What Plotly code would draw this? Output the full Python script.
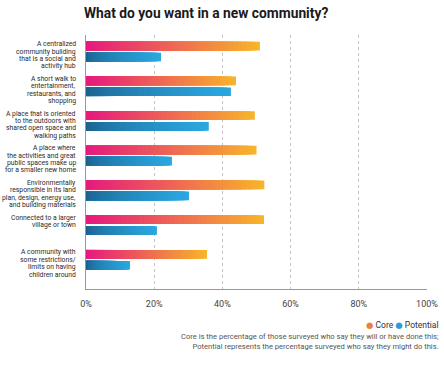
import plotly.graph_objects as go

categories = [
    "A centralized<br>community building<br>that is a social and<br>activity hub",
    "A short walk to<br>entertainment,<br>restaurants, and<br>shopping",
    "A place that is oriented<br>to the outdoors with<br>shared open space and<br>walking paths",
    "A place where<br>the activities and great<br>public spaces make up<br>for a smaller new home",
    "Environmentally<br>responsible in its land<br>plan, design, energy use,<br>and building materials",
    "Connected to a larger<br>village or town",
    "A community with<br>some restrictions/<br>limits on having<br>children around",
]
core = [51, 44, 49.5, 50, 52.3, 52.2, 35.5]
potential = [22, 42.5, 36, 25.2, 30.2, 20.8, 12.9]
tick_vals = [0, 20, 40, 60, 80, 100]
tick_text = ["0%", "20%", "40%", "60%", "80%", "100%"]

title_text = "What do you want in a new community?"
caption = ("Core is the percentage of those surveyed who say they will or have done this;<br>"
           "Potential represents the percentage surveyed who say they might do this.")

CORE_FROM, CORE_TO = (230, 24, 126), (247, 182, 42)
POT_FROM, POT_TO = (27, 92, 136), (42, 168, 225)
N = 40
idx = list(range(len(categories)))


def mix(a, b, t):
    return "rgb(%d,%d,%d)" % tuple(round(a[i] + (b[i] - a[i]) * t) for i in range(3))


fig = go.Figure()
W = 0.25
for vals, c0, c1, center, tpow in [(core, CORE_FROM, CORE_TO, -0.16, 1.0),
                                   (potential, POT_FROM, POT_TO, 0.155, 0.6)]:
    for j in range(N, 0, -1):
        t = ((j - 0.5) / N) ** tpow
        fig.add_trace(go.Bar(
            y=idx, x=[v * j / N for v in vals], orientation="h",
            marker=dict(color=mix(c0, c1, t), line=dict(width=0)),
            width=W, offset=center - W / 2, showlegend=False, hoverinfo="skip"))

annotations = []
for i, lab in enumerate(categories):
    for k, line in enumerate(lab.split("<br>")):
        annotations.append(dict(
            xref="paper", yref="y", x=0, y=i, xshift=-8, yshift=7.5 - 7.4 * k,
            text=line, showarrow=False, xanchor="right", yanchor="middle",
            font=dict(family="Roboto", size=6.8, color="#2a2a2a")))

annotations.append(dict(
    xref="paper", yref="paper", x=1.04, y=-0.142, xanchor="right", yanchor="middle",
    text="<span style='color:#ec823c;font-family:DejaVu Sans'>●</span> Core "
         "<span style='color:#2d9bd4;font-family:DejaVu Sans'>●</span> Potential",
    showarrow=False, font=dict(family="Roboto", size=8.5, color="#333")))
annotations.append(dict(
    xref="paper", yref="paper", x=1.04, y=-0.16, xanchor="right", yanchor="top",
    text=caption, showarrow=False, align="right",
    font=dict(family="Roboto", size=7.6, color="#555")))

fig.update_layout(
    width=444, height=366,
    margin=dict(l=86, r=17, t=35, b=77, autoexpand=False),
    barmode="overlay",
    plot_bgcolor="white", paper_bgcolor="white",
    title=dict(text="<b>" + title_text + "</b>", x=84 / 444, xanchor="left",
               y=1 - 13 / 366, yanchor="middle", yref="container",
               font=dict(family="Roboto", size=13.8, color="#1a1a1a")),
    annotations=annotations,
    xaxis=dict(range=[0, 100], tickvals=tick_vals, ticktext=tick_text,
               showgrid=True, gridcolor="#c4c4c4", griddash="dot", gridwidth=1,
               zeroline=False, showline=True, linecolor="#999", linewidth=1,
               ticks="", ticklabelstandoff=6, automargin=False,
               tickfont=dict(family="Roboto", size=9, color="#444")),
    yaxis=dict(range=[6.84, -0.48], showticklabels=False, showgrid=False,
               zeroline=False, showline=True, linecolor="#999", linewidth=1,
               automargin=False),
)

fig.write_html("out.html", config={"displayModeBar": False},
               post_script="document.body.style.margin='0';document.body.style.overflow='hidden';")
